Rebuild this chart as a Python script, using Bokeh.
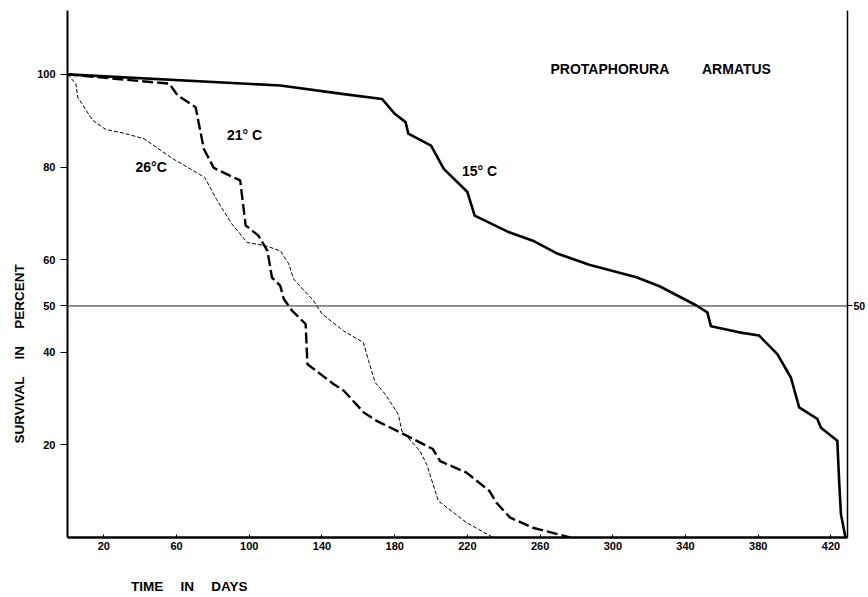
from bokeh.plotting import figure
from bokeh.models import FixedTicker, LinearAxis, Span, Label, Range1d, Title
from bokeh.embed import file_html
from bokeh.resources import INLINE

# ---- data ----
days_15 = [0, 117, 151, 173, 180, 186, 187.5, 200, 207, 220, 224, 243, 256, 269, 287,
           313, 326, 346, 352, 354, 369.5, 380.5, 390.5, 398, 402.5, 412.5, 414.5,
           423.5, 424.5, 425.5, 428]
surv_15 = [100, 97.6, 95.8, 94.7, 91.5, 89.7, 87.2, 84.6, 79.6, 74.6, 69.5, 65.9, 64.1,
           61.4, 58.9, 56.2, 54.2, 50.1, 48.6, 45.6, 44.3, 43.6, 39.6, 34.5, 28.1, 25.6,
           23.7, 20.9, 12.2, 5.0, 0]

days_21 = [0, 56, 60.5, 70.5, 75, 80.5, 95, 98, 105, 110, 112.5, 117, 119, 123.5, 131,
           132, 135.5, 146.5, 152, 163, 170, 183, 201, 205, 219.5, 232, 236, 243.5, 256,
           276.5]
surv_21 = [100, 98, 95.5, 92.9, 83.9, 79.8, 77.1, 67.4, 65.2, 61.9, 56.1, 54.4, 51.5,
           49.0, 46.1, 37.4, 36.4, 33.1, 31.7, 27.0, 25.2, 22.7, 19.1, 16.5, 14.0, 10.1,
           7.5, 4.3, 2.1, 0]

days_26 = [0, 4.6, 5.6, 13.8, 21.1, 31.1, 42.1, 57.9, 75.4, 82, 90.2, 98.8, 108.9,
           117.1, 121.7, 124.4, 135.4, 140, 151.9, 162.8, 165.6, 169.2, 174.7, 182,
           183.9, 193.9, 197.6, 204, 219.6, 234.2]
surv_26 = [100, 98, 95.1, 90.1, 88.1, 87.3, 86.1, 81.8, 77.8, 73, 67.8, 63.7, 63.0,
           61.9, 59.1, 55.8, 51.1, 48.3, 44.6, 42.1, 38.2, 33.5, 31.0, 26.6, 23.0, 18.7,
           15.8, 7.9, 3.2, 0]

x_ticks = [20, 60, 100, 140, 180, 220, 260, 300, 340, 380, 420]
y_ticks = [20, 40, 50, 60, 80, 100]
half_level = 50

GAP = " \u2003"   # wide word gap, as in the original lettering
x_title = GAP.join(["TIME", "IN", "DAYS"])
y_title = GAP.join(["SURVIVAL", "IN", "PERCENT"])

# ---- layout (page coordinates: the figure starts at the top-left corner) ----
W, H = 868, 597
BL, BR, BT, BB = 67, 19, 10, 60
X_END = 429.1
Y_END = 113.8
FW = W - BL - BR
X_TITLE_CENTER = (189 - BL) / FW * X_END   # where the x title sits under the axis

p = figure(width=W, height=H, x_range=Range1d(0, X_END), y_range=Range1d(0, Y_END),
           output_backend="svg", toolbar_location=None,
           x_axis_type=None, y_axis_type=None,
           min_border_left=BL, min_border_right=BR, min_border_top=BT, min_border_bottom=BB)
p.outline_line_color = None
p.background_fill_color = "white"
p.border_fill_color = "white"

FONT = "Liberation Sans"

xaxis = LinearAxis(ticker=FixedTicker(ticks=x_ticks, minor_ticks=[]),
                   axis_line_width=2.5, axis_line_color="black",
                   major_tick_in=3, major_tick_out=0, major_tick_line_color="black",
                   minor_tick_in=0, minor_tick_out=0,
                   major_label_text_font=FONT, major_label_text_font_style="bold",
                   major_label_text_font_size="11px", major_label_text_color="black",
                   major_label_standoff=4)
p.add_layout(xaxis, "below")

# x-axis title, placed left of centre as in the original
xtitle_axis = LinearAxis(ticker=FixedTicker(ticks=[X_TITLE_CENTER], minor_ticks=[]),
                         major_label_overrides={X_TITLE_CENTER: x_title},
                         axis_line_color=None, major_tick_line_color=None,
                         minor_tick_line_color=None, major_tick_in=0, major_tick_out=0,
                         minor_tick_in=0, minor_tick_out=0,
                         major_label_text_font=FONT, major_label_text_font_style="bold",
                         major_label_text_font_size="13.5px", major_label_text_color="black",
                         major_label_standoff=26)
p.add_layout(xtitle_axis, "below")

yaxis = LinearAxis(ticker=FixedTicker(ticks=y_ticks, minor_ticks=[]),
                   axis_line_width=2, axis_line_color="black",
                   major_tick_in=0, major_tick_out=7, major_tick_line_color="black",
                   minor_tick_in=0, minor_tick_out=0,
                   major_label_text_font=FONT, major_label_text_font_style="bold",
                   major_label_text_font_size="11px", major_label_text_color="black",
                   major_label_standoff=5)
p.add_layout(yaxis, "left")

raxis = LinearAxis(ticker=FixedTicker(ticks=[half_level], minor_ticks=[]),
                   axis_line_width=1.5, axis_line_color="black",
                   major_tick_in=0, major_tick_out=5, major_tick_line_color="black",
                   minor_tick_in=0, minor_tick_out=0,
                   major_label_text_font=FONT, major_label_text_font_style="bold",
                   major_label_text_font_size="10.5px", major_label_text_color="black",
                   major_label_standoff=1)
p.add_layout(raxis, "right")

p.add_layout(Title(text=y_title, align="left", offset=94, standoff=15,
                   text_font=FONT, text_font_style="bold", text_font_size="13.5px",
                   text_color="black"), "left")

p.add_layout(Span(location=half_level, dimension="width", line_color="#222222", line_width=1))

p.line(days_15, surv_15, line_color="black", line_width=2.6, line_join="round")
p.line(days_21, surv_21, line_color="black", line_width=2.4, line_dash="11 4")
p.line(days_26, surv_26, line_color="black", line_width=1, line_dash="4 2")

def lab(text, page_x, page_y, size):
    # screen units, measured from the frame's bottom-left corner
    p.add_layout(Label(x=page_x - BL, y=(H - BB) - page_y, x_units="screen", y_units="screen",
                       text=text, text_font=FONT, text_font_style="bold",
                       text_font_size=size, text_color="black", text_align="left",
                       text_baseline="middle"))

lab("PROTAPHORURA", 550, 68, "14px")
lab("ARMATUS", 701.5, 68, "14px")
lab("21\u00b0 C", 226.5, 134, "14px")
lab("26\u00b0C", 135, 166, "14px")
lab("15\u00b0 C", 461.5, 170, "14px")

open("out.html", "w").write(file_html(p, INLINE))
